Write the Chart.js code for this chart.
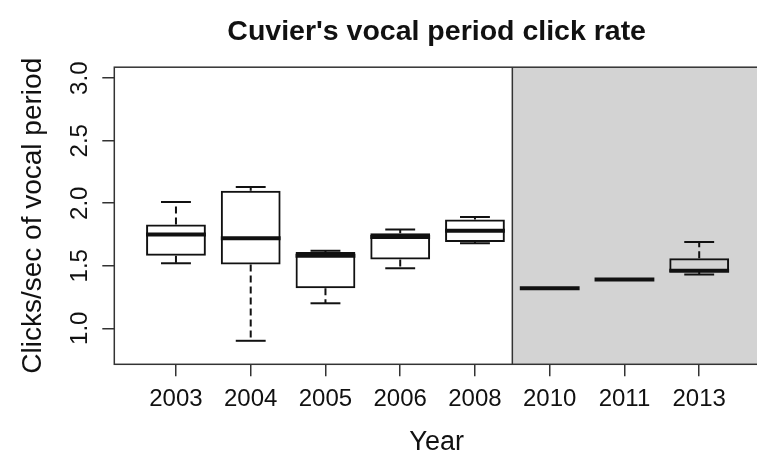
<!DOCTYPE html>
<html>
<head>
<meta charset="utf-8">
<title>Cuvier's vocal period click rate</title>
<script src="https://cdn.jsdelivr.net/npm/chart.js@4.4.1/dist/chart.umd.min.js"></script>
<style>
  html, body { margin: 0; padding: 0; background: #fff; overflow: hidden; }
  #wrap { width: 759px; height: 459px; }
</style>
</head>
<body>
<div id="wrap"><canvas id="boxChart" width="759" height="459"></canvas></div>
<script>
// box plot summaries, one entry per year
const years = ['2003', '2004', '2005', '2006', '2008', '2010', '2011', '2013'];
const whiskerLow  = [1.52, 0.90, 1.20, 1.48, 1.68, 1.32, 1.39, 1.43];
const q1          = [1.58, 1.51, 1.32, 1.55, 1.69, 1.32, 1.39, 1.45];
const median      = [1.75, 1.72, 1.58, 1.73, 1.78, 1.32, 1.39, 1.46];
const q3          = [1.83, 2.10, 1.61, 1.76, 1.87, 1.32, 1.39, 1.56];
const whiskerHigh = [2.01, 2.13, 1.62, 1.79, 1.89, 1.32, 1.39, 1.69];
const yTickLabels = ['1.0', '1.5', '2.0', '2.5', '3.0'];

const chartTitle = "Cuvier's vocal period click rate";
const shadeFrom = 5.5; // grey band starts between 2008 and 2010

const FONT = "'Liberation Sans', Arial, Helvetica, sans-serif";
const INK = '#111';
const FRAME = '#333';

const boxPlugin = {
    id: 'boxPlugin',
    beforeDatasetsDraw(chart) {
        const { ctx, chartArea: a, scales: { x } } = chart;
        const sx = x.getPixelForValue(shadeFrom);
        ctx.save();
        ctx.fillStyle = '#d3d3d3';
        ctx.fillRect(sx, a.top, a.right - sx, a.bottom - a.top);
        ctx.restore();
    },
    afterDatasetsDraw(chart) {
        const { ctx, scales: { y } } = chart;
        const bars = chart.getDatasetMeta(0).data;
        const seg = (x1, y1, x2, y2) => {
            ctx.beginPath();
            ctx.moveTo(x1, y1);
            ctx.lineTo(x2, y2);
            ctx.stroke();
        };
        ctx.save();
        ctx.strokeStyle = INK;
        bars.forEach((bar, i) => {
            const half = bar.width / 2;
            const cap = bar.width / 4;
            const pLo = y.getPixelForValue(whiskerLow[i]);
            const pQ1 = y.getPixelForValue(q1[i]);
            const pMed = y.getPixelForValue(median[i]);
            const pQ3 = y.getPixelForValue(q3[i]);
            const pHi = y.getPixelForValue(whiskerHigh[i]);

            ctx.lineWidth = 2;
            ctx.setLineDash([7, 4]);
            if (pHi < pQ3) seg(bar.x, pQ3, bar.x, pHi);
            if (pLo > pQ1) seg(bar.x, pQ1, bar.x, pLo);
            ctx.setLineDash([]);
            seg(bar.x - cap, pHi, bar.x + cap, pHi);
            seg(bar.x - cap, pLo, bar.x + cap, pLo);

            ctx.lineWidth = 4;
            seg(bar.x - half, pMed, bar.x + half, pMed);
        });
        ctx.restore();
    },
    afterDraw(chart) {
        const { ctx, chartArea: a, scales: { x, y } } = chart;
        ctx.save();
        ctx.strokeStyle = FRAME;
        ctx.lineWidth = 1.5;
        ctx.strokeRect(a.left, a.top, a.right - a.left, a.bottom - a.top);
        const sx = x.getPixelForValue(shadeFrom);
        ctx.beginPath();
        ctx.moveTo(sx, a.top);
        ctx.lineTo(sx, a.bottom);
        ctx.stroke();

        // y tick labels, rotated like R's default
        ctx.fillStyle = INK;
        ctx.font = '24px ' + FONT;
        ctx.textAlign = 'center';
        ctx.textBaseline = 'middle';
        y.ticks.forEach((t, k) => {
            ctx.save();
            ctx.translate(80, y.getPixelForValue(t.value));
            ctx.rotate(-Math.PI / 2);
            ctx.fillText(yTickLabels[k], 0, 0);
            ctx.restore();
        });
        ctx.restore();
    }
};

const ctx = document.getElementById('boxChart').getContext('2d');
new Chart(ctx, {
    type: 'bar',
    data: {
        datasets: [{
            data: years.map((yr, i) => ({ x: i + 1, y: [q1[i], q3[i]] })),
            backgroundColor: 'rgba(0,0,0,0)',
            borderColor: INK,
            borderWidth: 2,
            borderSkipped: false,
            barPercentage: 0.8,
            categoryPercentage: 1.0
        }]
    },
    options: {
        responsive: false,
        animation: false,
        devicePixelRatio: 1,
        layout: { padding: 0 },
        plugins: {
            legend: { display: false },
            tooltip: { enabled: false },
            title: {
                display: true,
                fullSize: false,
                text: chartTitle,
                color: INK,
                font: { family: FONT, size: 28.5, weight: 'bold' },
                padding: { top: 15, bottom: 18 }
            }
        },
        scales: {
            x: {
                type: 'linear',
                offset: false,
                min: 0.175,
                max: 8.8,
                afterBuildTicks: s => { s.ticks = years.map((yr, i) => ({ value: i + 1 })); },
                afterFit: s => { s.height = 94.7; },
                ticks: {
                    callback: v => years[v - 1],
                    autoSkip: false,
                    maxRotation: 0,
                    padding: 9,
                    color: INK,
                    font: { family: FONT, size: 24 }
                },
                grid: { offset: false, drawOnChartArea: false, tickLength: 12, color: FRAME, lineWidth: 1.5 },
                border: { display: false },
                title: {
                    display: true,
                    text: 'Year',
                    color: INK,
                    font: { family: FONT, size: 27 },
                    padding: { top: 0, bottom: 0 }
                }
            },
            y: {
                min: 0.712,
                max: 3.088,
                afterBuildTicks: s => { s.ticks = yTickLabels.map(v => ({ value: Number(v) })); },
                afterFit: s => { s.width = 114.3; },
                ticks: { display: false },
                grid: { drawOnChartArea: false, tickLength: 12, color: FRAME, lineWidth: 1.5 },
                border: { display: false },
                title: {
                    display: true,
                    text: 'Clicks/sec of vocal period',
                    color: INK,
                    font: { family: FONT, size: 28 },
                    padding: { top: 16, bottom: 0 }
                }
            }
        }
    },
    plugins: [boxPlugin]
});
</script>
</body>
</html>
